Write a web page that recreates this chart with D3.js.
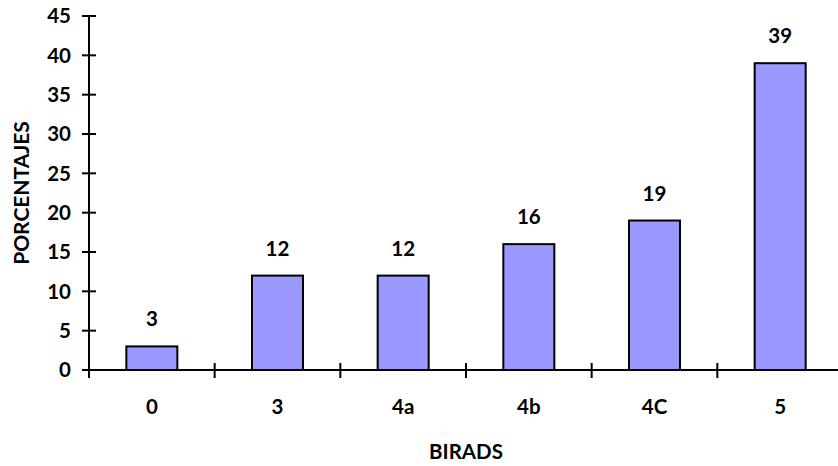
<!DOCTYPE html>
<html><head><meta charset="utf-8">
<script src="https://cdn.jsdelivr.net/npm/d3@7"></script>
<style>body{margin:0;background:#fff}svg{display:block}text{font-family:Lato,"Open Sans",sans-serif;font-weight:bold;fill:#000}</style>
</head><body><svg id="c" width="838" height="466"></svg>
<script>
const categories = ["0","3","4a","4b","4C","5"];
const values = [3,12,12,16,19,39];
const yTicks = [0,5,10,15,20,25,30,35,40,45];
const xTitle = "BIRADS";
const yTitle = "PORCENTAJES";

const svg = d3.select("#c");
const L = 89, R = 843, T = 16, B = 370;
const x = d3.scaleBand().domain(categories).range([L, R]);
const y = d3.scaleLinear().domain([0,45]).range([B, T]);
const bw = 51;
const fs = 20.5;

svg.selectAll("rect.bar").data(values).enter().append("rect")
  .attr("class","bar")
  .attr("x",(d,i)=>x(categories[i]) + x.bandwidth()/2 - bw/2)
  .attr("y",d=>y(d))
  .attr("width",bw)
  .attr("height",d=>B - y(d))
  .attr("fill","#9999FF").attr("stroke","#000").attr("stroke-width",2);

svg.selectAll("text.val").data(values).enter().append("text")
  .attr("class","val")
  .attr("x",(d,i)=>x(categories[i]) + x.bandwidth()/2)
  .attr("y",d=>y(d) - 20)
  .attr("text-anchor","middle").attr("font-size",fs).text(d=>d);

// y axis
const ya = svg.append("g");
ya.append("line").attr("x1",L).attr("x2",L).attr("y1",T).attr("y2",B+8).attr("stroke","#000").attr("stroke-width",2);
ya.selectAll("line.t").data(yTicks).enter().append("line")
  .attr("x1",L-7).attr("x2",L+7).attr("y1",d=>y(d)).attr("y2",d=>y(d)).attr("stroke","#000").attr("stroke-width",2);
ya.selectAll("text").data(yTicks).enter().append("text")
  .attr("x",L-18).attr("y",d=>y(d)).attr("dy","0.36em").attr("text-anchor","end").attr("font-size",fs).text(d=>d);

// x axis
const xa = svg.append("g");
xa.append("line").attr("x1",L).attr("x2",R).attr("y1",B).attr("y2",B).attr("stroke","#000").attr("stroke-width",2);
const boundaries = categories.slice(1).map(c=>x(c));
xa.selectAll("line.t").data(boundaries).enter().append("line")
  .attr("x1",d=>d).attr("x2",d=>d).attr("y1",B-7).attr("y2",B+8).attr("stroke","#000").attr("stroke-width",2);
xa.selectAll("text").data(categories).enter().append("text")
  .attr("x",d=>x(d)+x.bandwidth()/2).attr("y",407).attr("dy","0.36em").attr("text-anchor","middle").attr("font-size",fs).text(d=>d);

svg.append("text").attr("x",(L+R)/2).attr("y",452).attr("dy","0.36em").attr("text-anchor","middle").attr("font-size",20.5).text(xTitle);
svg.append("text").attr("transform",`translate(21,${(T+B)/2}) rotate(-90)`).attr("dy","0.36em").attr("text-anchor","middle").attr("font-size",21).text(yTitle);
</script></body></html>
